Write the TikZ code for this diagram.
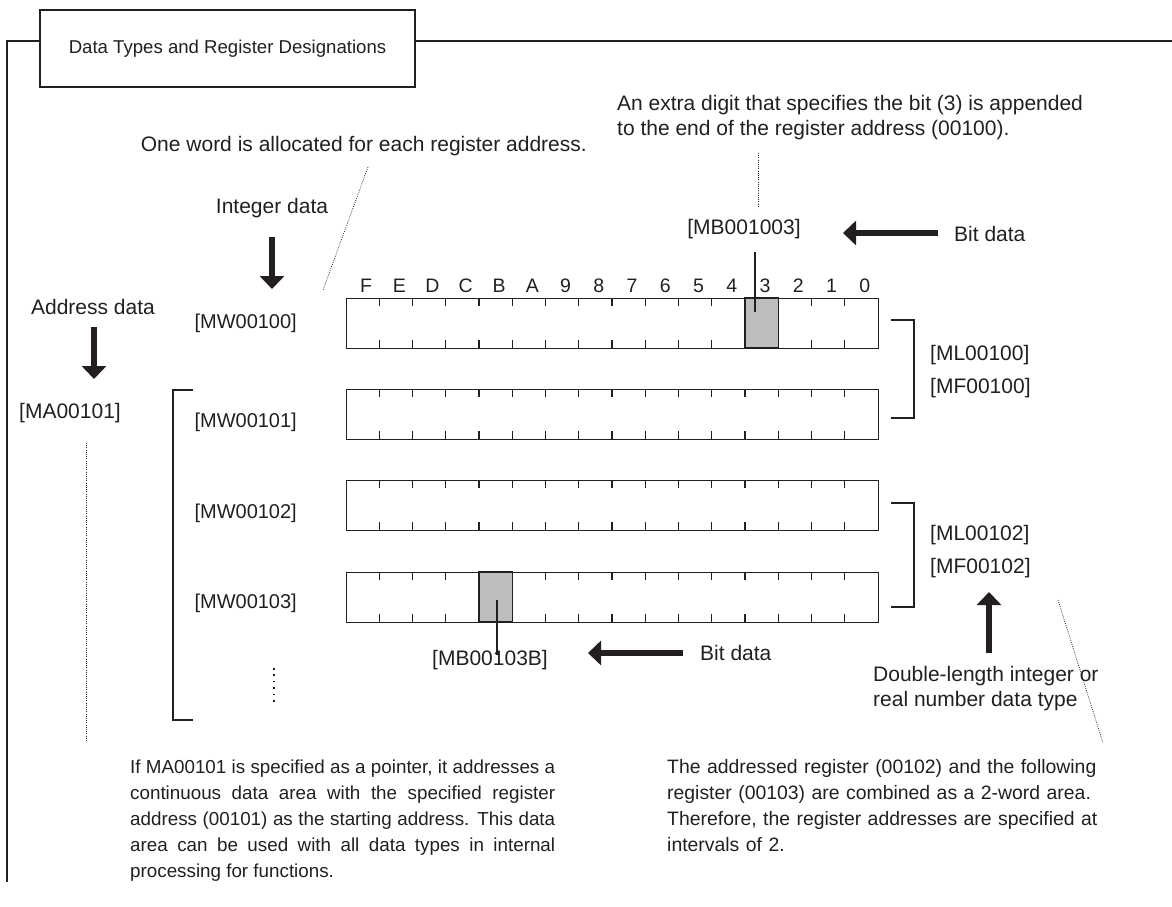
\documentclass[tikz,border=0pt]{standalone}
\usepackage{fontspec}
\setmainfont{Liberation Sans}
\usetikzlibrary{arrows.meta}
\definecolor{ink}{HTML}{231F20}
\definecolor{cellgray}{HTML}{BCBEC0}
\begin{document}
\begin{tikzpicture}[x=1pt,y=-1pt,
  every node/.style={text=ink, font=\fontsize{21}{25}\selectfont, inner sep=0pt},
  para/.style={font=\fontsize{19.4}{26}\selectfont, anchor=base west},
  mwlabel/.style={font=\fontsize{20}{24}\selectfont, anchor=east},
  digit/.style={font=\fontsize{19.5}{24}\selectfont},
  regbox/.style={draw=ink, line width=1.3pt, minimum width=532pt, minimum height=50pt, anchor=north west},
  tickline/.style={draw=ink, line width=1.3pt},
  thin/.style={draw=ink, line width=1.1pt},
  fatarrow/.style={draw=ink, line width=5.5pt, -{Triangle[length=13pt,width=24pt]}},
  dotline/.style={draw=ink, line width=0.8pt, dash pattern=on 0.8pt off 1.4pt},
  bigdots/.style={draw=ink, line width=1.6pt, dash pattern=on 1.6pt off 4.8pt},
  graycell/.style={fill=cellgray, draw=ink, line width=1.3pt}]
\useasboundingbox (0,0) rectangle (1172,907);

% frame and title
\node[draw=ink, line width=1.2pt, minimum width=375pt, minimum height=77pt, font=\fontsize{18.6}{22}\selectfont] (title) at (227.5,48.5) {Data Types and Register Designations};
\coordinate (fbot) at (7,882);
\coordinate (fcorner) at (7,41);
\coordinate (fright) at (1172,41);
\draw[thin] (fbot) -- (fcorner) -- (title.west |- fcorner);
\draw[thin] (title.east |- fright) -- (fright);

% registers
\node[regbox] (r1) at (346,298) {};
\node[regbox] (r2) at (346,389) {};
\node[regbox] (r3) at (346,480) {};
\node[regbox] (r4) at (346,572) {};
\draw[graycell] (745,298) rectangle (778.25,348);
\draw[graycell] (479,572) rectangle (512.25,622);
\foreach \t in {298,389,480,572}{
  \foreach \k in {1,...,15}{
    \draw[tickline] (346+33.25*\k,\t) -- ++(0,8);
    \draw[tickline] (346+33.25*\k,\t+50) -- ++(0,-8);
  }
}
\foreach \b [count=\k from 0] in {F,E,D,C,B,A,9,8,7,6,5,4,3,2,1,0}{
  \node[digit] (bit\k) at (346+33.25*\k+20,286) {\b};
}

% register labels
\node[mwlabel] (mw100) at (297,323) {[MW00100]};
\node[mwlabel] (mw101) at (297,422) {[MW00101]};
\node[mwlabel] (mw102) at (297,513) {[MW00102]};
\node[mwlabel] (mw103) at (297,603) {[MW00103]};
\node (ma) at (70,413) {[MA00101]};
\node[anchor=west] (ml100) at (930,355) {[ML00100]};
\node[anchor=west] (mf100) at (930,388) {[MF00100]};
\node[anchor=west] (ml102) at (930,535) {[ML00102]};
\node[anchor=west] (mf102) at (930,568) {[MF00102]};
\node (mb1) at (744,229) {[MB001003]};
\node (mb2) at (490,660) {[MB00103B]};

% data type labels and arrows
\node (intd) at (272,208) {Integer data};
\node (addr) at (93,307) {Address data};
\node[anchor=west] (bit1txt) at (954,234) {Bit data};
\node[anchor=west] (bit2txt) at (700,653) {Bit data};
\node[anchor=west, align=left] (dbl) at (873,689) {Double-length integer or\\real number data type};

\coordinate (ia1) at (272,237); \coordinate (ia2) at (272,289);
\coordinate (aa1) at (94,327); \coordinate (aa2) at (94,379);
\coordinate (ba1) at (938,233); \coordinate (ba2) at (843,233);
\coordinate (bb1) at (683,653); \coordinate (bb2) at (588,653);
\coordinate (da1) at (989,653); \coordinate (da2) at (989,592);
\draw[fatarrow] (ia1) -- (ia2);
\draw[fatarrow] (aa1) -- (aa2);
\draw[fatarrow] (ba1) -- (ba2);
\draw[fatarrow] (bb1) -- (bb2);
\draw[fatarrow] (da1) -- (da2);

% pointer lines to bit cells
\coordinate (p1a) at (755,252); \coordinate (p1b) at (755,312);
\coordinate (p2a) at (497,600); \coordinate (p2b) at (497,655);
\draw[thin] (p1a) -- (p1b);
\draw[thin] (p2a) -- (p2b);

% brackets
\draw[thin] (193,390) -- (173,390) -- (173,720) -- (193,720);
\draw[thin] (891,320) -- (914,320) -- (914,418) -- (891,418);
\draw[thin] (891,503) -- (914,503) -- (914,607) -- (891,607);

% annotations
\node[anchor=east] (oneword) at (587,146) {One word is allocated for each register address.};
\node[anchor=west, align=left] (extra) at (617,118) {An extra digit that specifies the bit (3) is appended\\to the end of the register address (00100).};
\draw[dotline] (758,153) -- (758,208);
\draw[dotline] (368,167) -- (323,290);
\draw[dotline] (86,443) -- (86,742);
\draw[dotline] (1058,600) -- (1103,743);
\draw[bigdots] (274,668) -- (274,706);

\node[para, font=\fontsize{18.8}{26}\selectfont, text width=425pt, align=justify] (leftpara) at (130,773) {If MA00101 is specified as a pointer, it addresses a\linebreak continuous data area with the specified register\linebreak address (00101) as the starting address. This data\linebreak area can be used with all data types in internal\linebreak processing for functions.};
\node[para, text width=440pt, align=left] (rightpara) at (667,773) {The addressed register (00102) and the following\\register (00103) are combined as a 2-word area.\\Therefore, the register addresses are specified at\\intervals of 2.};
\end{tikzpicture}
\end{document}
